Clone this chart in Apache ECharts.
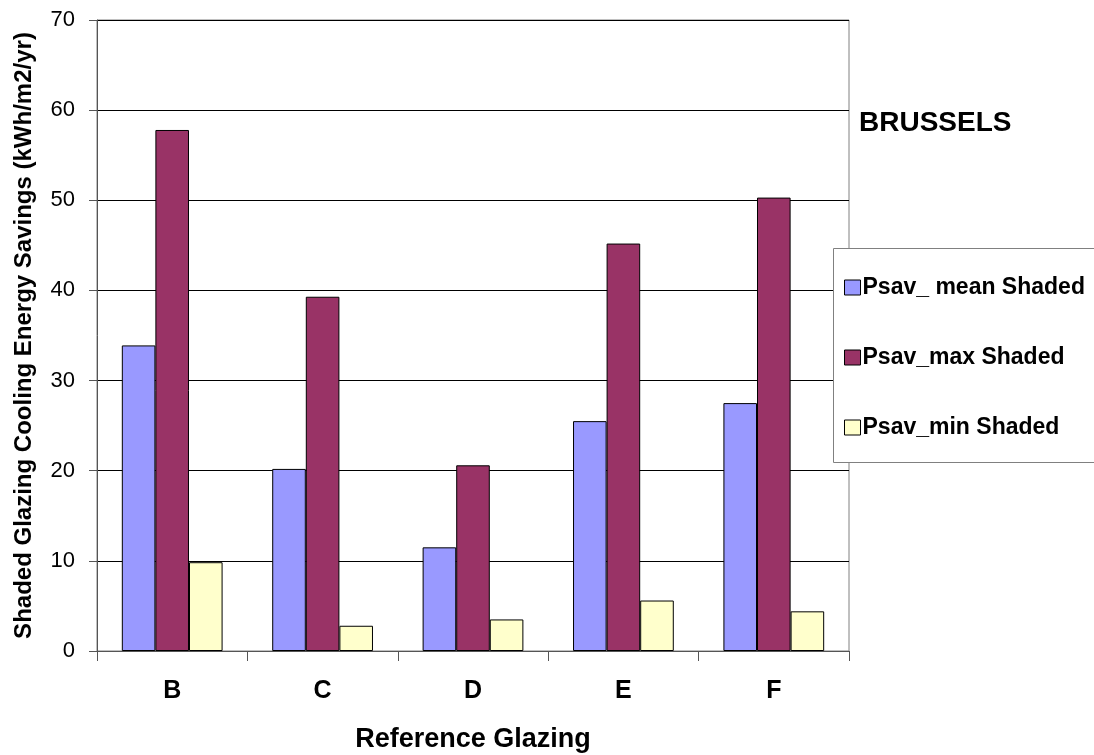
<!DOCTYPE html>
<html><head><meta charset="utf-8">
<script src="https://cdn.jsdelivr.net/npm/echarts@6/dist/echarts.min.js"></script>
<style>html,body{margin:0;padding:0;background:#fff}#c{width:1094px;height:755px}</style>
</head><body><div id="c"></div>
<script>
const categories = ['B', 'C', 'D', 'E', 'F'];
const meanShaded = [33.9, 20.2, 11.5, 25.5, 27.5];
const maxShaded = [57.8, 39.3, 20.6, 45.2, 50.3];
const minShaded = [9.85, 2.8, 3.5, 5.6, 4.4];
const seriesNames = ['Psav_ mean Shaded', 'Psav_max Shaded', 'Psav_min Shaded'];
const colors = ['#9999FF', '#993366', '#FFFFCC'];

const FONT = 'Liberation Sans, Arial, sans-serif';
const chart = echarts.init(document.getElementById('c'), null, {renderer: 'canvas'});
const mk = (name, data, color) => ({
  name, type: 'bar', data, barGap: '0%', barCategoryGap: '33%',
  itemStyle: {color, borderColor: '#000', borderWidth: 1},
  emphasis: {disabled: true}
});
chart.setOption({
  animation: false,
  textStyle: {fontFamily: FONT},
  grid: {left: 97, right: 245, top: 20, bottom: 104, containLabel: false, outerBoundsMode: 'none',
         show: true, borderColor: '#808080', borderWidth: 1, backgroundColor: 'transparent'},
  graphic: [
    {type: 'rect', shape: {x: 833.5, y: 248.5, width: 270, height: 214}, style: {fill: '#fff', stroke: '#808080', lineWidth: 1}, z: 1},
    {type: 'text', x: 859, y: 123, style: {text: 'BRUSSELS', font: 'bold 28px ' + FONT, fill: '#000', textVerticalAlign: 'middle'}}
  ],
  legend: {
    orient: 'vertical', left: 844, top: 276, itemGap: 47, itemWidth: 16, itemHeight: 15,
    icon: 'rect', z: 5, padding: 0,
    textStyle: {fontFamily: FONT, fontWeight: 'bold', fontSize: 23, lineHeight: 23, color: '#000', padding: [0, 0, 0, -3]},
    data: seriesNames.map((n, i) => ({name: n, itemStyle: {color: colors[i], borderColor: '#000', borderWidth: 1}}))
  },
  xAxis: {
    type: 'category', data: categories,
    name: 'Reference Glazing', nameLocation: 'middle', nameGap: 75,
    nameTextStyle: {fontFamily: FONT, fontWeight: 'bold', fontSize: 27, color: '#000'},
    axisLine: {lineStyle: {color: '#555', width: 1}},
    axisTick: {show: true, length: 10, lineStyle: {color: '#555'}},
    axisLabel: {fontFamily: FONT, fontWeight: 'bold', fontSize: 25, color: '#000', margin: 28}
  },
  yAxis: {
    type: 'value', min: 0, max: 70, interval: 10,
    name: 'Shaded Glazing Cooling Energy Savings (kWh/m2/yr)', nameLocation: 'middle', nameGap: 61,
    nameTextStyle: {fontFamily: FONT, fontWeight: 'bold', fontSize: 24, color: '#000'},
    axisLine: {show: true, lineStyle: {color: '#555', width: 1}},
    axisTick: {show: true, length: 8, inside: false, lineStyle: {color: '#555'}},
    axisLabel: {fontFamily: FONT, fontSize: 22, color: '#000', margin: 22},
    splitLine: {show: true, lineStyle: {color: '#000', width: 1}}
  },
  series: [
    mk(seriesNames[0], meanShaded, colors[0]),
    mk(seriesNames[1], maxShaded, colors[1]),
    mk(seriesNames[2], minShaded, colors[2])
  ]
});
</script></body></html>
